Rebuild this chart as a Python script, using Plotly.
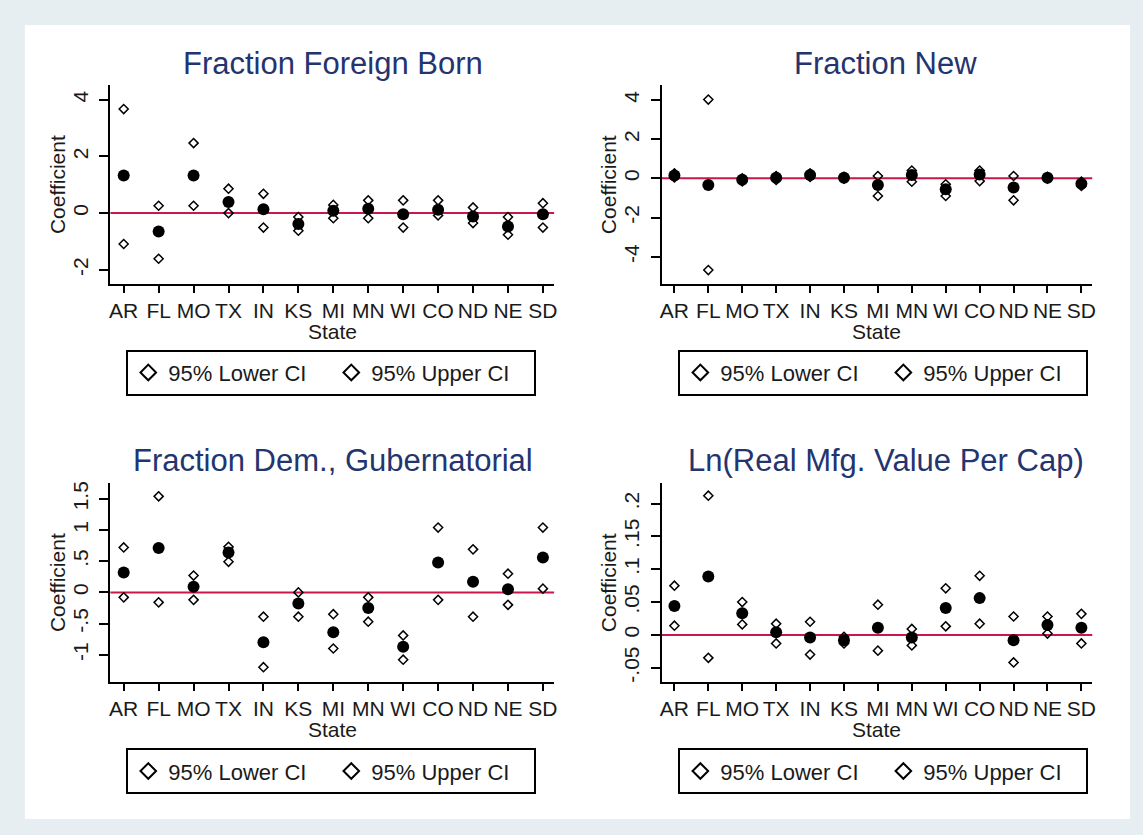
import plotly.graph_objects as go

W, H = 1143, 835

states = ["AR", "FL", "MO", "TX", "IN", "KS", "MI", "MN", "WI", "CO", "ND", "NE", "SD"]

# Panel 1: Fraction Foreign Born
fb_coef = [1.33, -0.65, 1.33, 0.39, 0.14, -0.38, 0.08, 0.15, -0.04, 0.12, -0.12, -0.47, -0.04]
fb_lower = [-1.09, -1.61, 0.26, 0.0, -0.51, -0.62, -0.18, -0.18, -0.51, -0.08, -0.35, -0.76, -0.51]
fb_upper = [3.67, 0.26, 2.47, 0.86, 0.68, -0.14, 0.29, 0.45, 0.45, 0.45, 0.20, -0.14, 0.35]

# Panel 2: Fraction New
fn_coef = [0.15, -0.34, -0.07, 0.03, 0.17, 0.03, -0.34, 0.17, -0.56, 0.20, -0.47, 0.03, -0.27]
fn_lower = [0.05, -4.68, -0.15, -0.08, 0.07, -0.02, -0.90, -0.17, -0.90, -0.14, -1.12, -0.02, -0.39]
fn_upper = [0.25, 4.02, 0.00, 0.12, 0.25, 0.08, 0.12, 0.40, -0.30, 0.40, 0.12, 0.08, -0.17]

# Panel 3: Fraction Dem., Gubernatorial
fd_coef = [0.32, 0.71, 0.09, 0.64, -0.80, -0.18, -0.64, -0.25, -0.87, 0.48, 0.17, 0.05, 0.56]
fd_lower = [-0.08, -0.16, -0.12, 0.49, -1.20, -0.39, -0.90, -0.47, -1.08, -0.12, -0.39, -0.20, 0.06]
fd_upper = [0.72, 1.54, 0.27, 0.73, -0.39, 0.00, -0.35, -0.08, -0.69, 1.04, 0.69, 0.30, 1.04]

# Panel 4: Ln(Real Mfg. Value Per Cap)
fm_coef = [0.044, 0.089, 0.033, 0.004, -0.004, -0.008, 0.011, -0.004, 0.041, 0.056, -0.008, 0.015, 0.011]
fm_lower = [0.014, -0.035, 0.016, -0.013, -0.030, -0.013, -0.024, -0.016, 0.013, 0.017, -0.042, 0.002, -0.013]
fm_upper = [0.075, 0.212, 0.050, 0.017, 0.020, -0.003, 0.046, 0.009, 0.071, 0.090, 0.028, 0.028, 0.032]

titles = ["Fraction Foreign Born", "Fraction New",
          "Fraction Dem., Gubernatorial", "Ln(Real Mfg. Value Per Cap)"]
y_ranges = [[-2.5, 4.53], [-5.39, 4.78], [-1.43, 1.75], [-0.0711, 0.231]]
y_tickvals = [[-2, 0, 2, 4], [-4, -2, 0, 2, 4],
              [-1, -0.5, 0, 0.5, 1, 1.5], [-0.05, 0, 0.05, 0.1, 0.15, 0.2]]
y_ticktext = [["-2", "0", "2", "4"], ["-4", "-2", "0", "2", "4"],
              ["-1", "-.5", "0", ".5", "1", "1.5"], ["-.05", "0", ".05", ".1", ".15", ".2"]]
legend_labels = ["95% Lower CI", "95% Upper CI"]

panels = [(fb_coef, fb_lower, fb_upper), (fn_coef, fn_lower, fn_upper),
          (fd_coef, fd_lower, fd_upper), (fm_coef, fm_lower, fm_upper)]

# pixel layout of each plot area: (left, right, top, bottom)
boxes = [(109, 555, 83, 283), (663, 1096, 83, 283),
         (109, 555, 483, 682), (663, 1096, 483, 682)]
title_pos = [(333, 62), (888, 62), (333, 460), (889, 460)]
legend_pos = [(331, 372), (886, 372), (331, 772), (886, 772)]

FONT = "Liberation Sans, Arial, sans-serif"
TXT = "#1a1a1a"
TITLE_C = "#24346e"
RED = "#c8174a"

def px(x):
    return x / W

def py(y):
    return 1 - y / H

fig = go.Figure()
layout = dict(
    width=W, height=H,
    margin=dict(l=0, r=0, t=0, b=0),
    paper_bgcolor="#e7eef1",
    plot_bgcolor="rgba(0,0,0,0)",
    showlegend=True,
    shapes=[dict(type="rect", xref="paper", yref="paper",
                 x0=px(23), x1=px(1134), y0=py(820), y1=py(23),
                 fillcolor="white", line=dict(width=0), layer="below")],
    annotations=[],
)

for i, (coef, lower, upper) in enumerate(panels):
    n = i + 1
    xa = "x" if n == 1 else f"x{n}"
    ya = "y" if n == 1 else f"y{n}"
    lg = "legend" if n == 1 else f"legend{n}"
    l, r, t, b = boxes[i]
    layout[f"xaxis{'' if n == 1 else n}"] = dict(
        domain=[px(l), px(r)], anchor=ya, type="category",
        range=[-0.38, 12.32], tickmode="array", tickvals=states, ticktext=states,
        showline=True, linecolor="black", linewidth=2, mirror=False,
        ticks="outside", ticklen=7, tickwidth=2, tickcolor="black",
        showgrid=False, zeroline=False, ticklabelstandoff=0,
        tickfont=dict(family=FONT, size=21, color=TXT),
    )
    layout[f"yaxis{'' if n == 1 else n}"] = dict(
        domain=[py(b), py(t)], anchor=xa,
        range=y_ranges[i], tickmode="array", tickvals=y_tickvals[i], ticktext=y_ticktext[i],
        tickangle=-90,
        showline=True, linecolor="black", linewidth=2, mirror=False,
        ticks="outside", ticklen=9, tickwidth=2, tickcolor="black",
        showgrid=False, zeroline=False, ticklabelstandoff=3,
        tickfont=dict(family=FONT, size=21, color=TXT),
    )
    layout["shapes"].append(dict(type="line", xref=f"{xa} domain", yref=ya,
                                 x0=0, x1=1, y0=0, y1=0,
                                 line=dict(color=RED, width=2), layer="below"))
    lx, ly = legend_pos[i]
    layout[lg] = dict(
        x=px(lx), y=py(ly), xanchor="center", yanchor="middle",
        xref="paper", yref="paper",
        orientation="h", bgcolor="white", bordercolor="black", borderwidth=2,
        font=dict(family=FONT, size=22, color=TXT),
        entrywidth=158, entrywidthmode="pixels", itemsizing="constant",
    )
    tx, ty = title_pos[i]
    layout["annotations"].append(dict(
        text=titles[i], xref="paper", yref="paper", x=px(tx), y=py(ty),
        xanchor="center", yanchor="middle", showarrow=False,
        font=dict(family=FONT, size=31, color=TITLE_C)))
    layout["annotations"].append(dict(
        text="Coefficient", xref="paper", yref="paper", x=px(l - 53), y=py((t + b) / 2),
        xanchor="center", yanchor="middle", showarrow=False, textangle=-90,
        font=dict(family=FONT, size=21, color=TXT)))
    layout["annotations"].append(dict(
        text="State", xref="paper", yref="paper", x=px((l + r) / 2), y=py(b + 48),
        xanchor="center", yanchor="middle", showarrow=False,
        font=dict(family=FONT, size=21, color=TXT)))

    for vals, name in zip([lower, upper], legend_labels):
        fig.add_trace(go.Scatter(
            x=states, y=vals, mode="markers", name=name, xaxis=xa, yaxis=ya,
            legend=lg, showlegend=True, cliponaxis=False,
            marker=dict(symbol="diamond-open", size=7, color="black",
                        line=dict(width=1.5, color="black"))))
    fig.add_trace(go.Scatter(
        x=states, y=coef, mode="markers", name="Coefficient", xaxis=xa, yaxis=ya,
        showlegend=False, cliponaxis=False,
        marker=dict(symbol="circle", size=12, color="black")))

fig.update_layout(**layout)
fig.write_html("out.html")
